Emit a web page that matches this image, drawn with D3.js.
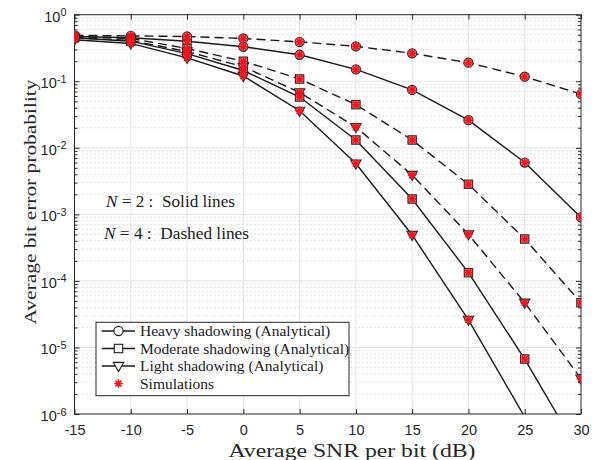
<!DOCTYPE html>
<html>
<head>
<meta charset="utf-8">
<script src="https://cdn.jsdelivr.net/npm/d3@7"></script>
<style>
  body { margin: 0; background: #fff; }
  svg { display: block; }
</style>
</head>
<body>
<div id="chart"></div>
<script>
// SNR points (dB) and BER values
var snr = [-15, -10, -5, 0, 5, 10, 15, 20, 25, 30];
var heavyN2 = [0.47, 0.45, 0.40, 0.33, 0.25, 0.151, 0.074, 0.026, 0.006, 0.0009];
var heavyN4 = [0.49, 0.48, 0.47, 0.44, 0.39, 0.335, 0.263, 0.19, 0.117, 0.064];
var moderateN2 = [0.45, 0.40, 0.26, 0.145, 0.058, 0.0131, 0.0017, 0.000133, 6.7e-6, 2.4e-7];
var moderateN4 = [0.47, 0.44, 0.31, 0.20, 0.108, 0.0445, 0.0131, 0.00283, 0.000426, 4.7e-5];
var lightN2 = [0.42, 0.37, 0.225, 0.12, 0.036, 0.0058, 0.00049, 2.6e-5, 9e-7, 1.5e-8];
var lightN4 = [0.45, 0.41, 0.28, 0.165, 0.068, 0.0205, 0.0039, 0.0005, 4.7e-5, 3.4e-6];
var xTicks = [-15, -10, -5, 0, 5, 10, 15, 20, 25, 30];
var yExps = [0, -1, -2, -3, -4, -5, -6];
var legendLabels = ["Heavy shadowing (Analytical)", "Moderate shadowing (Analytical)",
                    "Light shadowing (Analytical)", "Simulations"];

var width = 606, height = 460;
var pLeft = 74.5, pRight = 581, pTop = 14.7, pBottom = 414;
var axisColor = "#262626";
var serif = "'Liberation Serif', 'Times New Roman', serif";
var sans = "'Liberation Sans', Arial, Helvetica, sans-serif";

var x = d3.scaleLinear().domain([-15, 30]).range([pLeft, pRight]);
var y = d3.scaleLog().domain([1e-6, 1]).range([pBottom, pTop]);

var svg = d3.select("#chart").append("svg")
    .attr("width", width)
    .attr("height", height)
    .style("background-color", "white");

svg.append("defs").append("clipPath").attr("id", "plotclip")
  .append("rect")
    .attr("x", pLeft).attr("y", pTop)
    .attr("width", pRight - pLeft).attr("height", pBottom - pTop);

// minor y values 2..9 x 10^k
var minorY = [];
yExps.slice(0, -1).forEach(function(e) {
  for (var m = 2; m <= 9; m++) minorY.push(m * Math.pow(10, e - 1));
});
var majorY = yExps.map(function(e) { return Math.pow(10, e); });

//grid
var grid = svg.append("g");
grid.selectAll(".minor").data(minorY).enter().append("line")
    .attr("x1", pLeft).attr("x2", pRight)
    .attr("y1", function(d) { return y(d); })
    .attr("y2", function(d) { return y(d); })
    .attr("stroke", "#c4c4c4")
    .attr("stroke-width", 0.9)
    .attr("stroke-dasharray", "1,3");
grid.selectAll(".majx").data(xTicks.slice(1, -1)).enter().append("line")
    .attr("x1", function(d) { return x(d); })
    .attr("x2", function(d) { return x(d); })
    .attr("y1", pTop).attr("y2", pBottom)
    .attr("stroke", "#e3e3e3")
    .attr("stroke-width", 1);
grid.selectAll(".majy").data(majorY.slice(1, -1)).enter().append("line")
    .attr("x1", pLeft).attr("x2", pRight)
    .attr("y1", function(d) { return y(d); })
    .attr("y2", function(d) { return y(d); })
    .attr("stroke", "#e3e3e3")
    .attr("stroke-width", 1);

//axes
function styleAxis(g) {
  g.select(".domain").remove();
  g.selectAll(".tick line").attr("stroke", axisColor);
  g.selectAll("text").attr("fill", axisColor).style("font-family", sans).style("font-size", "14.5px");
}
svg.append("g")
    .attr("transform", "translate(0," + pBottom + ")")
    .call(d3.axisBottom(x).tickValues(xTicks).tickSize(-5).tickPadding(11)
      .tickFormat(function(d) { return String(d); }))
    .call(styleAxis);
svg.append("g")
    .attr("transform", "translate(0," + pTop + ")")
    .call(d3.axisTop(x).tickValues(xTicks).tickSize(-5).tickFormat(""))
    .call(styleAxis);
var yAxisG = svg.append("g")
    .attr("transform", "translate(" + pLeft + ",0)")
    .call(d3.axisLeft(y).tickValues(majorY).tickSize(-5).tickPadding(8).tickFormat(""))
    .call(styleAxis);
svg.append("g")
    .attr("transform", "translate(" + pLeft + ",0)")
    .call(d3.axisLeft(y).tickValues(minorY).tickSize(-3).tickFormat(""))
    .call(styleAxis);
svg.append("g")
    .attr("transform", "translate(" + pRight + ",0)")
    .call(d3.axisRight(y).tickValues(majorY).tickSize(-5).tickFormat(""))
    .call(styleAxis);
svg.append("g")
    .attr("transform", "translate(" + pRight + ",0)")
    .call(d3.axisRight(y).tickValues(minorY).tickSize(-3).tickFormat(""))
    .call(styleAxis);

// y labels as 10^k
yAxisG.selectAll(".tick text").each(function(d) {
  var t = d3.select(this).attr("dy", "0.45em");
  t.append("tspan").text("10");
  t.append("tspan").attr("dy", "-0.5em").style("font-size", "11px")
    .text(Math.round(Math.log10(d)));
});

svg.append("rect")
    .attr("x", pLeft).attr("y", pTop)
    .attr("width", pRight - pLeft).attr("height", pBottom - pTop)
    .attr("fill", "none")
    .attr("stroke", axisColor)
    .attr("stroke-width", 1);

//series
var series = [
  {vals: heavyN2, marker: "circle", dash: null},
  {vals: heavyN4, marker: "circle", dash: "9,5"},
  {vals: moderateN2, marker: "square", dash: null},
  {vals: moderateN4, marker: "square", dash: "9,5"},
  {vals: lightN2, marker: "triangle", dash: null},
  {vals: lightN4, marker: "triangle", dash: "9,5"}
];

var line = d3.line()
    .x(function(d) { return x(d[0]); })
    .y(function(d) { return y(d[1]); });

var plot = svg.append("g").attr("clip-path", "url(#plotclip)");

function drawMarker(g, type, cx, cy) {
  if (type === "circle") {
    g.append("circle").attr("cx", cx).attr("cy", cy).attr("r", 4.6);
  } else if (type === "square") {
    g.append("rect").attr("x", cx - 4.2).attr("y", cy - 4.2).attr("width", 8.4).attr("height", 8.4);
  } else {
    g.append("path").attr("d", "M" + (cx - 5.2) + "," + (cy - 3.6) + "L" + (cx + 5.2) + "," + (cy - 3.6) +
      "L" + cx + "," + (cy + 5.6) + "Z");
  }
}
function drawStar(g, cx, cy) {
  var r = 4.3, s = r * Math.SQRT1_2;
  g.append("path")
    .attr("d", "M" + (cx - r) + "," + cy + "h" + (2 * r) +
      "M" + cx + "," + (cy - r) + "v" + (2 * r) +
      "M" + (cx - s) + "," + (cy - s) + "l" + (2 * s) + "," + (2 * s) +
      "M" + (cx - s) + "," + (cy + s) + "l" + (2 * s) + "," + (-2 * s))
    .attr("stroke", "#f0141e")
    .attr("stroke-width", 1.6)
    .attr("fill", "none");
}

series.forEach(function(s) {
  var pts = snr.map(function(v, i) { return [v, s.vals[i]]; });
  plot.append("path")
      .datum(pts)
      .attr("d", line)
      .attr("fill", "none")
      .attr("stroke", "#1a1a1a")
      .attr("stroke-width", 1.4)
      .attr("stroke-dasharray", s.dash);
});
series.forEach(function(s) {
  var mg = plot.append("g").attr("fill", "#f47a7a").attr("stroke", "#2a2a2a").attr("stroke-width", 1.1);
  snr.forEach(function(v, i) {
    if (s.vals[i] < 1e-6) return;
    drawMarker(mg, s.marker, x(v), y(s.vals[i]));
  });
});
series.forEach(function(s) {
  var sg = plot.append("g");
  snr.forEach(function(v, i) {
    if (s.vals[i] < 1e-6) return;
    drawStar(sg, x(v), y(s.vals[i]));
  });
});

//axis titles
svg.append("text")
    .attr("x", 352).attr("y", 457)
    .attr("text-anchor", "middle")
    .attr("textLength", 247).attr("lengthAdjust", "spacingAndGlyphs")
    .style("font-family", serif).style("font-size", "18px")
    .attr("fill", axisColor)
    .text("Average SNR per bit (dB)");
svg.append("text")
    .attr("transform", "translate(36,202) rotate(-90)")
    .attr("text-anchor", "middle")
    .attr("textLength", 245).attr("lengthAdjust", "spacingAndGlyphs")
    .style("font-family", serif).style("font-size", "17.5px")
    .attr("fill", axisColor)
    .text("Average bit error probability");

//annotations
var notes = [["2", "Solid lines", 106, 207, 129], ["4", "Dashed lines", 104, 239, 145]];
notes.forEach(function(n) {
  var t = svg.append("text")
      .attr("x", n[2]).attr("y", n[3])
      .attr("textLength", n[4]).attr("lengthAdjust", "spacingAndGlyphs")
      .style("font-family", serif).style("font-size", "16.5px")
      .style("white-space", "pre")
      .attr("fill", "#1a1a1a");
  t.append("tspan").style("font-style", "italic").text("N");
  t.append("tspan").text(" = " + n[0] + " :  " + n[1]);
});

//legend
var legend = svg.append("g");
legend.append("rect")
    .attr("x", 96).attr("y", 322.3)
    .attr("width", 253).attr("height", 73.4)
    .attr("fill", "white")
    .attr("stroke", axisColor)
    .attr("stroke-width", 1);
var legMarkers = ["circle", "square", "triangle", null];
legendLabels.forEach(function(lbl, i) {
  var cy = 331 + i * 17.5;
  var g = legend.append("g");
  if (legMarkers[i]) {
    g.append("line").attr("x1", 101.7).attr("x2", 135).attr("y1", cy).attr("y2", cy)
      .attr("stroke", "#1a1a1a").attr("stroke-width", 1.4);
    var mg = g.append("g").attr("fill", "white").attr("stroke", "#1a1a1a").attr("stroke-width", 1.1);
    drawMarker(mg, legMarkers[i], 118.5, cy);
  } else {
    drawStar(g, 118.5, cy);
  }
  g.append("text")
      .attr("x", 140).attr("y", cy + 5)
      .style("font-family", serif).style("font-size", "15.5px")
      .attr("fill", "#1a1a1a")
      .text(lbl);
});
</script>
</body>
</html>
